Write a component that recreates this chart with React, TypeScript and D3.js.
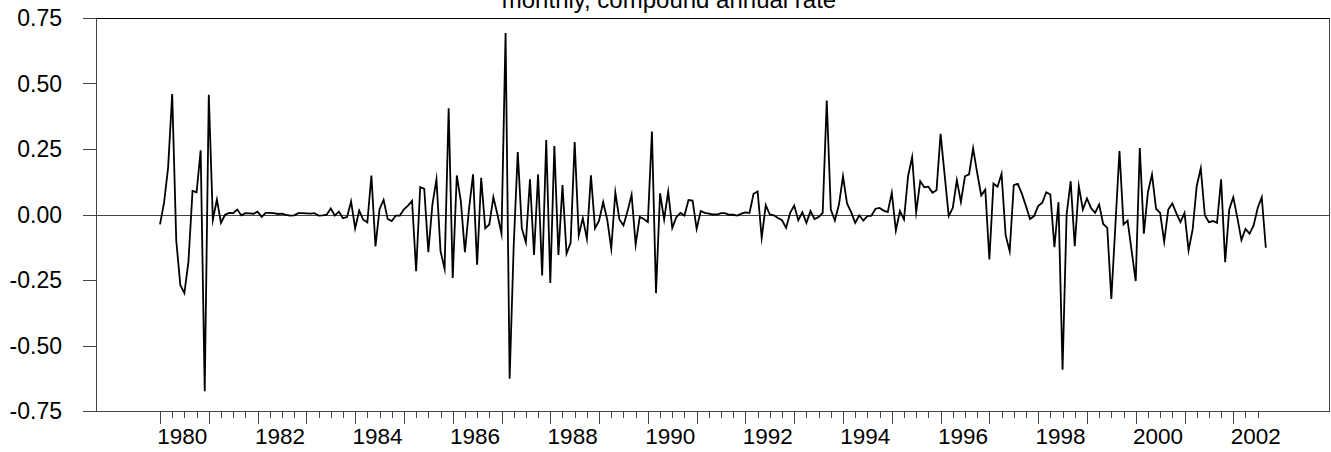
import React from "react";
import * as d3 from "d3";

const START_YEAR = 1980;
const TITLE = "monthly, compound annual rate";

// monthly values, Jan 1980 - Dec 1989
const rate1980s = [
  -0.038, 0.045, 0.18, 0.46, -0.1, -0.27, -0.3, -0.18, 0.09, 0.085, 0.245, -0.675,
  0.457, -0.02, 0.057, -0.032, -0.001, 0.006, 0.005, 0.019, -0.003, 0.005, 0.004, 0.003,
  0.011, -0.009, 0.006, 0.006, 0.005, 0.002, 0.003, -0.001, -0.004, -0.003, 0.005, 0.005,
  0.004, 0.003, 0.005, -0.004, -0.003, -0.001, 0.023, -0.004, 0.011, -0.014, -0.01, 0.05,
  -0.053, 0.015, -0.02, -0.03, 0.149, -0.122, 0.02, 0.056, -0.017, -0.025, -0.004, -0.004,
  0.02, 0.034, 0.052, -0.216, 0.105, 0.098, -0.144, 0.038, 0.134, -0.14, -0.207, 0.405,
  -0.242, 0.149, 0.05, -0.144, 0.02, 0.153, -0.192, 0.14, -0.053, -0.038, 0.066, 0.0,
  -0.073, 0.693, -0.627, -0.12, 0.238, -0.053, -0.106, 0.134, -0.154, 0.153, -0.233, 0.284,
  -0.261, 0.261, -0.154, 0.112, -0.149, -0.108, 0.277, -0.08, -0.014, -0.093, 0.15, -0.053,
  -0.024, 0.047, -0.019, -0.13, 0.084, -0.019, -0.042, 0.013, 0.075, -0.115, -0.009, -0.017,
];

// monthly values, Jan 1990 - Dec 1999
const rate1990s = [
  -0.029, 0.317, -0.3, 0.081, -0.019, 0.087, -0.051, -0.01, 0.006, -0.004, 0.055, 0.053,
  -0.055, 0.013, 0.006, 0.003, 0.0, 0.0, 0.005, 0.005, -0.001, -0.001, -0.004, 0.003,
  0.008, 0.006, 0.079, 0.088, -0.089, 0.036, 0.0, -0.003, -0.013, -0.022, -0.051, 0.006,
  0.034, -0.022, 0.009, -0.032, 0.013, -0.017, -0.01, 0.006, 0.435, 0.019, -0.023, 0.038,
  0.146, 0.041, 0.009, -0.032, -0.003, -0.023, -0.006, -0.004, 0.022, 0.025, 0.015, 0.009,
  0.083, -0.061, 0.013, -0.019, 0.146, 0.219, 0.009, 0.127, 0.104, 0.106, 0.083, 0.093,
  0.308, 0.15, -0.006, 0.025, 0.131, 0.048, 0.146, 0.153, 0.252, 0.159, 0.073, 0.095,
  -0.172, 0.118, 0.106, 0.155, -0.079, -0.14, 0.112, 0.117, 0.079, 0.032, -0.017, -0.006,
  0.032, 0.045, 0.085, 0.076, -0.125, 0.047, -0.592, 0.0, 0.127, -0.121, 0.108, 0.019,
  0.061, 0.025, 0.006, 0.038, -0.036, -0.051, -0.322, -0.04, 0.242, -0.038, -0.023, -0.14,
];

// monthly values, Jan 2000 - Sep 2002
const rate2000s = [
  -0.254, 0.254, -0.073, 0.085, 0.153, 0.022, 0.006, -0.104, 0.019, 0.042, 0.004, -0.029,
  0.006, -0.137, -0.057, 0.108, 0.176, -0.003, -0.029, -0.025, -0.032, 0.134, -0.182, 0.019,
  0.066, -0.013, -0.098, -0.055, -0.073, -0.042, 0.025, 0.066, -0.127,
];

const yTickValues = [0.75, 0.5, 0.25, 0, -0.25, -0.5, -0.75];
const yearLabels = [1980, 1982, 1984, 1986, 1988, 1990, 1992, 1994, 1996, 1998, 2000, 2002];

const W = 1331;
const H = 452;
const FONT = "'Liberation Sans', Arial, Helvetica, sans-serif";

export default function App() {
  const values = [...rate1980s, ...rate1990s, ...rate2000s];
  const data = values.map((v, i) => ({ m: i, v }));

  const box = { left: 96, right: 1330, top: 18, bottom: 411 };

  // month index -> pixel; Jan 1980 at 160, Jan 2002 at 1233.3
  const x = d3.scaleLinear().domain([0, 264]).range([160, 1233.3]);
  const y = d3.scaleLinear().domain([-0.75, 0.75]).range([box.bottom, box.top]);

  const line = d3
    .line<{ m: number; v: number }>()
    .x((d) => x(d.m))
    .y((d) => y(d.v));

  const lastMonth = values.length - 1;
  const quarterTicks = d3.range(0, lastMonth + 1, 3);

  return (
    <svg
      width={W}
      height={H}
      style={{ position: "absolute", left: 0, top: 0, background: "#fff" }}
      fontFamily={FONT}
    >
      <rect x={0} y={0} width={W} height={H} fill="#fff" />
      <text x={669} y={7.5} fontSize={24} textAnchor="middle" fill="#000">
        {TITLE}
      </text>

      {/* y ticks and labels */}
      {yTickValues.map((t) => (
        <g key={t}>
          <line
            x1={83}
            x2={box.left}
            y1={Math.round(y(t)) + 0.5}
            y2={Math.round(y(t)) + 0.5}
            stroke="#444"
            strokeWidth={1}
          />
          <text
            x={62}
            y={y(t)}
            dy="0.36em"
            fontSize={23}
            textAnchor="end"
            fill="#000"
          >
            {t.toFixed(2)}
          </text>
        </g>
      ))}

      {/* zero line */}
      <line
        x1={box.left}
        x2={box.right}
        y1={Math.round(y(0)) + 0.5}
        y2={Math.round(y(0)) + 0.5}
        stroke="#444"
        strokeWidth={1}
      />

      {/* frame */}
      <line x1={box.left} x2={box.right} y1={box.top + 0.5} y2={box.top + 0.5} stroke="#000" strokeWidth={1} />
      <line x1={box.left} x2={box.right} y1={box.bottom + 0.5} y2={box.bottom + 0.5} stroke="#444" strokeWidth={1} />
      <line x1={box.left + 0.5} x2={box.left + 0.5} y1={box.top} y2={box.bottom} stroke="#444" strokeWidth={1} />
      <line x1={box.right - 0.5} x2={box.right - 0.5} y1={box.top} y2={box.bottom} stroke="#444" strokeWidth={1} />

      {/* x ticks */}
      {quarterTicks.map((m) => {
        const major = m % 12 === 0;
        const px = Math.round(x(m)) + 0.5;
        return (
          <line
            key={m}
            x1={px}
            x2={px}
            y1={box.bottom}
            y2={box.bottom + (major ? 13 : 7)}
            stroke="#444"
            strokeWidth={1}
          />
        );
      })}

      {/* x labels */}
      {yearLabels.map((yr) => (
        <text
          key={yr}
          x={x((yr - START_YEAR) * 12 + 5.5)}
          y={444}
          fontSize={22.5}
          textAnchor="middle"
          fill="#000"
        >
          {yr}
        </text>
      ))}

      <path
        d={line(data) || ""}
        fill="none"
        stroke="#000"
        strokeWidth={1.8}
        strokeLinejoin="miter"
        strokeMiterlimit={10}
      />
    </svg>
  );
}
